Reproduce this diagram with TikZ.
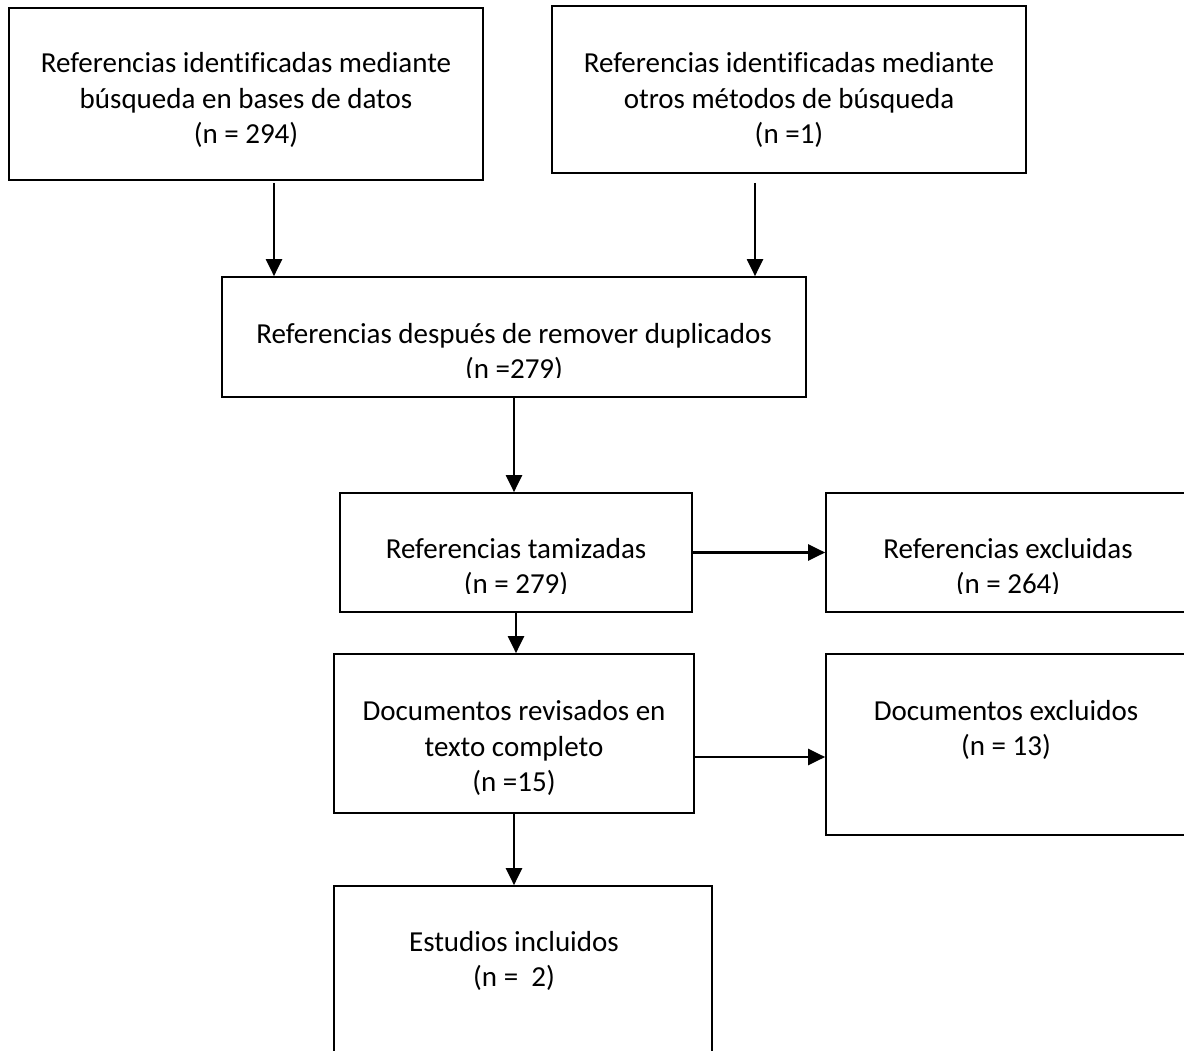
\documentclass[tikz,border=0pt]{standalone}
\usepackage{fontspec}
\setmainfont{Carlito}[Ligatures=NoCommon]
\usetikzlibrary{arrows.meta}
\begin{document}
\begin{tikzpicture}[x=1pt,y=-1pt,
  box/.style={draw=black,line width=1.7pt,rectangle,inner sep=0pt},
  txt/.style={align=center,inner sep=0pt,font=\fontsize{29}{35.4}\selectfont},
  arr/.style={line width=2.2pt,-{Triangle[length=17pt,width=16pt]}}]
\useasboundingbox (0,0) rectangle (1184,1051);
% boxes
\node[box,minimum width=474pt,minimum height=172pt] (b1) at (246,94) {};
\node[box,minimum width=474pt,minimum height=167pt] (b2) at (789,89.5) {};
\node[box,minimum width=584pt,minimum height=120pt] (b3) at (514,337) {};
\node[box,minimum width=352pt,minimum height=119pt] (b4) at (516,552.5) {};
\node[box,minimum width=380pt,minimum height=119pt] (b5) at (1016,552.5) {};
\node[box,minimum width=360pt,minimum height=159pt] (b6) at (514,733.5) {};
\node[box,minimum width=380pt,minimum height=181pt] (b7) at (1016,744.5) {};
\node[box,minimum width=378pt,minimum height=190pt] (b8) at (523,981) {};
% texts
\node[txt] (t1) at (246,100) {Referencias identificadas mediante\\búsqueda en bases de datos\\(n = 294)};
\node[txt] (t2) at (789,100) {Referencias identificadas mediante\\otros métodos de búsqueda\\(n =1)};
\begin{scope}
\clip (222,277) rectangle (806,377.5);
\node[txt] (t3) at (514,353) {Referencias después de remover duplicados\\(n =279)};
\end{scope}
\begin{scope}
\clip (340,493) rectangle (692,593);
\node[txt] (t4) at (516,568) {Referencias tamizadas\\(n = 279)};
\end{scope}
\begin{scope}
\clip (826,493) rectangle (1184,593);
\node[txt] (t5) at (1008,568) {Referencias excluidas\\(n = 264)};
\end{scope}
\node[txt] (t6) at (514,748) {Documentos revisados en\\texto completo\\(n =15)};
\node[txt] (t7) at (1006,730) {Documentos excluidos\\(n = 13)};
\node[txt] (t8) at (514,961) {Estudios incluidos\\(n =~~2)};
% connectors
\coordinate (x1) at (274,0);
\coordinate (x2) at (755,0);
\draw[arr] ([yshift=-2pt]b1.south -| x1) -- (b3.north -| x1);
\draw[arr] ([yshift=-9pt]b2.south -| x2) -- (b3.north -| x2);
\draw[arr] (b3.south) -- (b4.north -| b3.south);
\draw[arr] (b4.south) -- (b6.north -| b4.south);
\draw[arr] (b4.east) -- (b5.west |- b4.east);
\draw[arr] (b6.east |- 0,757) -- (b7.west |- 0,757);
\draw[arr] (b6.south) -- (b8.north -| b6.south);
\end{tikzpicture}
\end{document}
